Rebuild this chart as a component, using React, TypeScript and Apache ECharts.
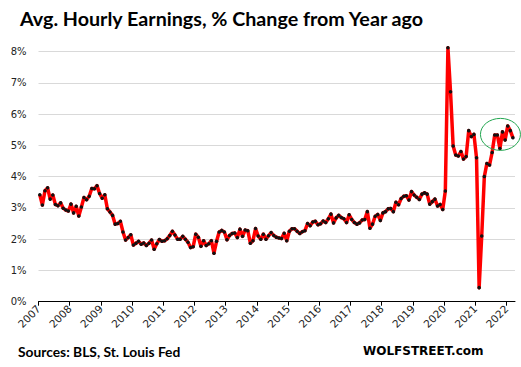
import React, { useEffect, useRef } from "react";
import * as echarts from "echarts";

// Avg. hourly earnings, % change from year ago, monthly, Mar 2007 .. May 2022
const startYear = 2007;
const startMonth = 3; // March
const y2007 = [3.42, 3.09, 3.55, 3.64, 3.28, 3.41, 3.11, 3.07, 3.16, 2.99];
const y2008 = [2.93, 2.9, 3.12, 2.84, 3.05, 2.74, 3.03, 3.33, 3.26, 3.37, 3.62, 3.61];
const y2009 = [3.71, 3.46, 3.31, 3.42, 2.97, 2.87, 2.76, 2.48, 2.5, 2.57, 2.23, 1.97];
const y2010 = [2.05, 2.14, 1.81, 1.87, 1.93, 1.84, 1.88, 1.8, 1.87, 1.97, 1.68, 1.85];
const y2011 = [1.99, 1.93, 1.95, 2.01, 2.12, 2.25, 2.13, 2.0, 2.0, 2.09, 2.0, 1.9];
const y2012 = [1.73, 1.76, 2.16, 2.06, 1.77, 1.95, 1.8, 1.85, 1.95, 1.55, 1.93, 2.23];
const y2013 = [2.28, 2.23, 1.98, 2.12, 2.18, 2.2, 2.05, 2.32, 2.09, 2.29, 2.27, 1.87];
const y2014 = [1.95, 2.34, 2.1, 2.0, 2.16, 2.0, 2.11, 2.21, 2.12, 2.06, 2.04, 2.02];
const y2015 = [2.19, 1.95, 2.25, 2.33, 2.33, 2.25, 2.18, 2.24, 2.27, 2.5, 2.43, 2.55];
const y2016 = [2.57, 2.46, 2.49, 2.58, 2.53, 2.65, 2.8, 2.52, 2.68, 2.76, 2.69, 2.65];
const y2017 = [2.53, 2.78, 2.63, 2.53, 2.48, 2.52, 2.61, 2.63, 2.88, 2.35, 2.48, 2.73];
const y2018 = [2.79, 2.6, 2.84, 2.88, 2.97, 2.98, 2.88, 3.18, 3.1, 3.3, 3.37, 3.39];
const y2019 = [3.25, 3.52, 3.41, 3.34, 3.27, 3.44, 3.48, 3.44, 3.12, 3.2, 3.28, 3.06];
const y2020 = [3.11, 2.95, 3.54, 8.12, 6.71, 4.98, 4.69, 4.66, 4.8, 4.56, 4.64, 5.47];
const y2021 = [5.28, 5.35, 4.6, 0.45, 2.1, 4.0, 4.42, 4.37, 4.77, 5.33, 5.33, 4.9];
const y2022 = [5.43, 5.17, 5.62, 5.47, 5.24];

const yearTicks = [2007, 2008, 2009, 2010, 2011, 2012, 2013, 2014, 2015, 2016, 2017, 2018, 2019, 2020, 2021, 2022];
const yTicks = [0, 1, 2, 3, 4, 5, 6, 7, 8];

const allValues = [
  ...y2007, ...y2008, ...y2009, ...y2010, ...y2011, ...y2012, ...y2013, ...y2014,
  ...y2015, ...y2016, ...y2017, ...y2018, ...y2019, ...y2020, ...y2021, ...y2022,
];

// x in months since Jan of startYear (0 = Jan 2007); ticks sit half a month before March
const monthIndex = (i: number) => startMonth - 1 + i;
const tickOffset = startMonth - 1 - 0.5;
const seriesData = allValues.map((v, i) => [monthIndex(i), v]);

export default function App() {
  const ref = useRef<HTMLDivElement>(null);
  useEffect(() => {
    if (!ref.current) return;
    const chart = echarts.init(ref.current, null, { renderer: "svg" });
    const tickValues = yearTicks.map((y) => tickOffset + (y - startYear) * 12);
    const xMax = monthIndex(allValues.length - 1) + 0.8;
    chart.setOption({
      animation: false,
      backgroundColor: "#ffffff",
      grid: { left: 38.5, right: 6, top: 51.5, bottom: 65.3, containLabel: false, outerBoundsMode: "none" },
      xAxis: {
        type: "value",
        min: tickOffset,
        max: xMax,
        axisLine: { show: true, onZero: false, lineStyle: { color: "#000", width: 1 } },
        axisTick: { show: true, length: 4, lineStyle: { color: "#000" }, customValues: tickValues },
        axisLabel: {
          show: true,
          rotate: 45,
          margin: 5,
          fontFamily: "DejaVu Sans",
          fontSize: 10.5,
          color: "#222",
          customValues: tickValues,
          formatter: (v: number) => String(startYear + Math.round((v - tickOffset) / 12)),
        },
        splitLine: { show: false },
      },
      yAxis: {
        type: "value",
        min: yTicks[0],
        max: yTicks[yTicks.length - 1],
        interval: 1,
        axisLine: { show: false },
        axisTick: { show: false },
        axisLabel: {
          fontFamily: "DejaVu Sans",
          fontSize: 10,
          color: "#222",
          margin: 12,
          formatter: (v: number) => `${v}%`,
        },
        splitLine: { show: true, lineStyle: { color: "#d9d9d9", width: 1 } },
      },
      series: [
        {
          type: "line",
          data: seriesData,
          clip: false,
          showSymbol: true,
          symbol: "circle",
          symbolSize: 3.5,
          itemStyle: { color: "#111", borderWidth: 0 },
          lineStyle: { color: "#ff0000", width: 3.5, join: "round" },
          z: 3,
        },
      ],
    });

    const c = chart.convertToPixel({ gridIndex: 0 }, [monthIndex(177.2), 5.35]) as number[];
    chart.setOption({
      graphic: [
        {
          type: "text",
          left: 20,
          top: 8,
          style: {
            text: "Avg. Hourly Earnings, % Change from Year ago",
            font: "bold 19.7px Lato",
            fill: "#000",
          },
        },
        {
          type: "text",
          left: 18,
          top: 344,
          style: { text: "Sources: BLS, St. Louis Fed", font: "bold 13.8px Lato", fill: "#000" },
        },
        {
          type: "text",
          left: 363,
          top: 345,
          style: { text: "WOLFSTREET.com", font: "bold 12px 'DejaVu Sans'", fill: "#000" },
        },
        {
          type: "ellipse",
          shape: { cx: c[0], cy: c[1], rx: 20, ry: 16 },
          style: { fill: "none", stroke: "#22a650", lineWidth: 1 },
          z: 10,
        },
      ],
    });
    return () => chart.dispose();
  }, []);
  return (
    <div
      ref={ref}
      style={{ position: "fixed", left: 0, top: 0, width: 521, height: 367, background: "#fff" }}
    />
  );
}
